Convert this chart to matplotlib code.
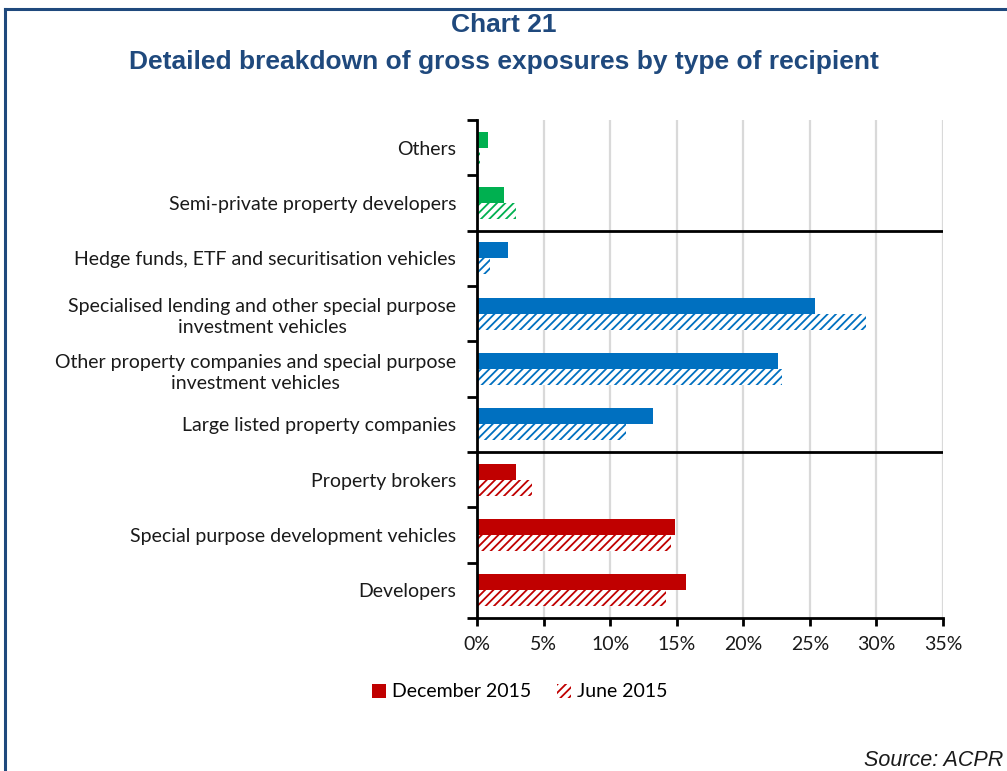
import numpy as np
import matplotlib.pyplot as plt
from matplotlib.patches import Patch
from matplotlib.lines import Line2D

plt.rcParams['hatch.linewidth'] = 1.3

categories = [
    "Others",
    "Semi-private property developers",
    "Hedge funds, ETF and securitisation vehicles",
    "Specialised lending and other special purpose\ninvestment vehicles",
    "Other property companies and special purpose\ninvestment vehicles",
    "Large listed property companies",
    "Property brokers",
    "Special purpose development vehicles",
    "Developers",
]
dec_2015 = [0.8, 2.0, 2.3, 25.4, 22.6, 13.2, 2.9, 14.9, 15.7]
jun_2015 = [0.2, 2.9, 1.0, 29.2, 22.9, 11.2, 4.1, 14.6, 14.2]
groups = ["green", "green", "blue", "blue", "blue", "blue", "red", "red", "red"]
palette = {"green": "#00B050", "blue": "#0070C0", "red": "#C00000"}
xticks = [0, 5, 10, 15, 20, 25, 30, 35]

title_col = "#1F497D"
label_font = "Lato"
fs = 14

fig = plt.figure(figsize=(10.07, 7.71), dpi=100)
ax = fig.add_axes([0.4737, 0.1984, 0.4627, 0.646])

y = np.arange(len(categories))
h = 0.29
for i in range(len(categories)):
    c = palette[groups[i]]
    ax.barh(y[i] - h / 2, dec_2015[i], height=h, color=c, linewidth=0, zorder=3)
    ax.barh(y[i] + h / 2, jun_2015[i], height=h, facecolor="white", edgecolor=c,
            hatch="////", linewidth=0, zorder=3)

ax.set_xlim(0, 35)
ax.set_ylim(len(categories) - 0.5, -0.5)
ax.set_xticks(xticks)
ax.set_xticklabels([f"{v}%" for v in xticks])
ax.set_yticks(y)
ax.set_yticklabels(categories)
ax.set_yticks(np.arange(-0.5, len(categories), 1.0), minor=True)

for lab in ax.get_yticklabels():
    lab.set_horizontalalignment("right")
    lab.set_multialignment("center")
    lab.set_linespacing(1.3)

ax.tick_params(axis="y", which="major", length=0, pad=15, labelsize=fs)
ax.tick_params(axis="y", which="minor", length=7, width=2, direction="out")
ax.tick_params(axis="x", length=6, width=2, direction="out", labelsize=fs, pad=7)
for lab in ax.get_xticklabels() + ax.get_yticklabels():
    lab.set_fontfamily(label_font)
    lab.set_color("#1a1a1a")

ax.grid(axis="x", color="#D9D9D9", linewidth=1.6, zorder=0)
ax.set_axisbelow(True)
for s in ["top", "right"]:
    ax.spines[s].set_visible(False)
for s in ["left", "bottom"]:
    ax.spines[s].set_linewidth(2)
    ax.spines[s].set_zorder(5)

# separators between recipient groups
for yb in [1.5, 5.5]:
    ax.axhline(yb, color="black", linewidth=2, zorder=4)

handles = [Patch(facecolor="#C00000", linewidth=0),
           Patch(facecolor="white", edgecolor="#C00000", hatch="////", linewidth=0)]
fig.legend(handles, ["December 2015", "June 2015"], loc="center",
           bbox_to_anchor=(0.516, 0.1025), ncol=2, frameon=False,
           prop={"family": label_font, "size": fs}, handlelength=0.75,
           handleheight=0.75, handletextpad=0.3, columnspacing=1.3)

fig.text(0.5, 0.958, "Chart 21", ha="center", va="baseline", fontsize=19,
         fontweight="bold", color=title_col, family="Liberation Sans")
fig.text(0.5, 0.911, "Detailed breakdown of gross exposures by type of recipient",
         ha="center", va="baseline", fontsize=19, fontweight="bold", color=title_col,
         family="Liberation Sans")
fig.text(0.996, 0.006, "Source: ACPR", ha="right", va="baseline", fontsize=15.5,
         style="italic", family="Liberation Sans", color="#1a1a1a")

# frame around the figure
fig.add_artist(Line2D([0.005, 1.0], [0.988, 0.988], color=title_col, linewidth=2.2))
fig.add_artist(Line2D([0.005, 0.005], [0.0, 0.988], color=title_col, linewidth=2.2))

fig.savefig("out.png", dpi=100)
